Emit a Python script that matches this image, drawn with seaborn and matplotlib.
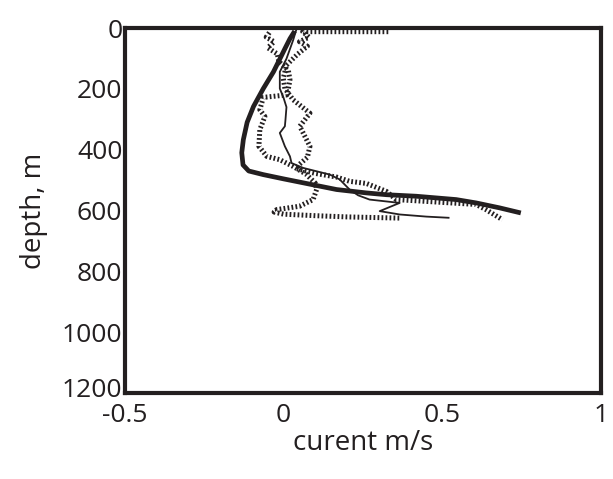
import matplotlib
matplotlib.use("Agg")
import matplotlib.pyplot as plt
import matplotlib.transforms as mtransforms
import seaborn as sns
import pandas as pd

# --- data ---
mean_x = [0.035, 0.02, 0.004, -0.032, -0.064, -0.095, -0.115, -0.127, -0.132, -0.128,
          -0.11, -0.064, 0.0, 0.062, 0.167, 0.26, 0.324, 0.418, 0.544, 0.607, 0.68, 0.748]
mean_y = [10, 35, 68, 144, 199, 258, 310, 367, 410, 450,
          470, 482, 496, 509, 531, 542, 548, 553, 564, 575, 591, 608]

thin_x = [0.041, 0.03, 0.009, -0.012, -0.012, 0.0, 0.009, 0.006, 0.004, -0.012, 0.004,
          0.02, 0.025, 0.062, 0.146, 0.177, 0.208, 0.235, 0.271, 0.366, 0.303, 0.366,
          0.45, 0.523]
thin_y = [2, 40, 101, 144, 199, 230, 260, 300, 323, 345, 389,
          422, 444, 460, 482, 498, 531, 550, 564, 575, 602, 613,
          620, 624]

left_x = [-0.045, -0.055, -0.03, -0.05, -0.02, -0.015, 0.015, 0.02, 0.015, 0.01,
          -0.064, -0.075, -0.059, -0.075, -0.078, -0.053, -0.012, 0.03, 0.07, 0.1,
          0.104, 0.093, 0.05, -0.022, -0.03, 0.0, 0.1, 0.2, 0.371]
left_y = [15, 30, 45, 65, 85, 110, 140, 170, 200, 220,
          228, 269, 291, 334, 389, 422, 433, 455, 480, 510,
          531, 564, 586, 597, 605, 612, 617, 621, 625]

right_x = [0.33, 0.2, 0.06, 0.08, 0.05, 0.075, 0.045, 0.009, -0.001, 0.004,
           0.03, 0.083, 0.051, 0.083, 0.075, 0.05, 0.04, 0.1, 0.167, 0.208,
           0.261, 0.324, 0.355, 0.45, 0.607, 0.638, 0.69]
right_y = [12, 12, 12, 30, 45, 60, 85, 122, 166, 199,
           236, 280, 323, 389, 425, 448, 462, 478, 490, 504,
           511, 537, 564, 570, 580, 597, 630]

x_ticks = [-0.5, 0, 0.5, 1]
x_labels = ["-0.5", "0", "0.5", "1"]
y_ticks = [0, 200, 400, 600, 800, 1000, 1200]
y_labels = ["0", "200", "400", "600", "800", "1000", "1200"]

sns.set_style("white")
plt.rcParams["font.family"] = ["Open Sans", "DejaVu Sans"]

fig = plt.figure(figsize=(6.13, 4.79), dpi=100)
ax = fig.add_axes([0.204, 0.1795, 0.776, 0.762])

ink = "#231f20"
kw = dict(sort=False, estimator=None, ax=ax, color=ink, legend=False)
sns.lineplot(x=left_x, y=left_y, linewidth=3.6, linestyle=(0, (0.35, 0.45)), **kw)
sns.lineplot(x=right_x, y=right_y, linewidth=3.6, linestyle=(0, (0.35, 0.45)), **kw)
sns.lineplot(x=thin_x, y=thin_y, linewidth=1.3, **kw)
sns.lineplot(x=mean_x, y=mean_y, linewidth=3.4, **kw)

for line in ax.lines:
    line.set_solid_capstyle("butt")
    line.set_dash_capstyle("butt")
    line.set_solid_joinstyle("round")

ax.set_xlim(-0.5, 1)
ax.set_ylim(1200, 0)
ax.set_xticks(x_ticks)
ax.set_xticklabels(x_labels)
ax.set_yticks(y_ticks)
ax.set_yticklabels(y_labels)

for s in ax.spines.values():
    s.set_linewidth(3.0)
    s.set_color(ink)
    s.set_visible(True)

ax.tick_params(axis="both", direction="in", length=7, width=1.5, color=ink,
               labelsize=19, labelcolor=ink)
ax.tick_params(axis="x", pad=7)
ax.tick_params(axis="y", pad=2)

# nudge the bottom y label up slightly so it does not collide with "-0.5"
last = ax.get_yticklabels()[-1]
last.set_transform(last.get_transform() +
                   mtransforms.ScaledTranslation(0, 4 / 72, fig.dpi_scale_trans))

ax.set_xlabel("curent m/s", fontsize=20, color=ink, labelpad=1)
ax.set_ylabel("depth, m", fontsize=20, color=ink, labelpad=10)

fig.savefig("out.png", dpi=100)
